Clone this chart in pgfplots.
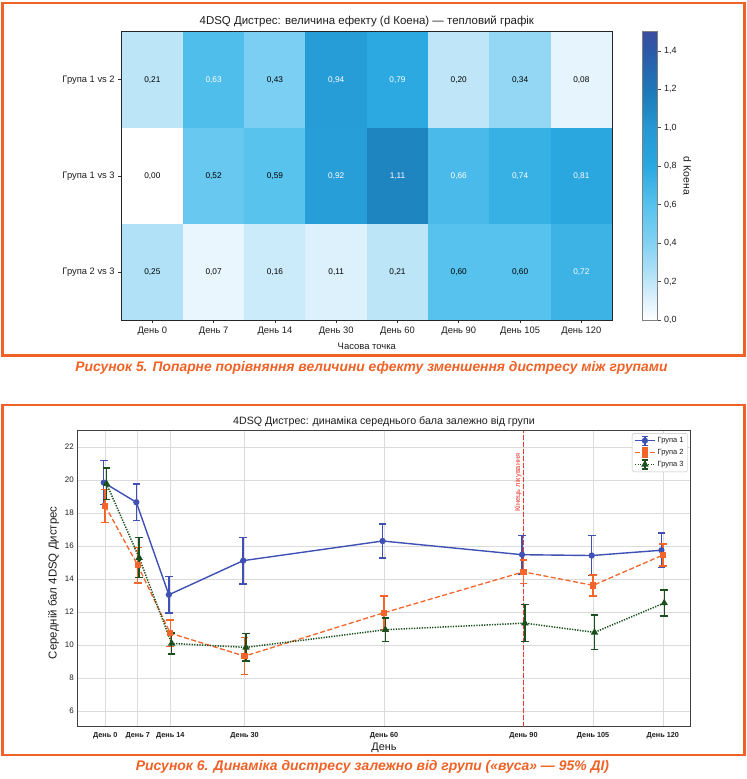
\documentclass[border=0pt]{standalone}
\usepackage{fontspec}
\setmainfont{Liberation Sans}
\setsansfont{Liberation Sans}
\usepackage{pgfplots}
\pgfplotsset{compat=1.18}
\usepackage{pgfplotstable}

\definecolor{frameor}{RGB}{240,98,38}
\definecolor{gA}{RGB}{63,81,181}
\definecolor{gB}{RGB}{243,101,43}
\definecolor{gC}{RGB}{27,80,30}
\definecolor{endline}{RGB}{236,58,48}
\definecolor{txt}{RGB}{30,30,30}

\newcommand\fs[1]{\fontsize{#1}{#1}\selectfont}

\pgfplotsset{/pgf/number format/assume math mode=true, /pgf/number format/use comma}

% Cohen's d: y = 0 (1 vs 2), 1 (1 vs 3), 2 (2 vs 3); w = 1 -> white label
\pgfplotstableread{
x y c w
0 0 0.21 0
1 0 0.63 1
2 0 0.43 0
3 0 0.94 1
4 0 0.79 1
5 0 0.20 0
6 0 0.34 0
7 0 0.08 0
0 1 0.00 0
1 1 0.52 0
2 1 0.59 0
3 1 0.92 1
4 1 1.11 1
5 1 0.66 1
6 1 0.74 1
7 1 0.81 1
0 2 0.25 0
1 2 0.07 0
2 2 0.16 0
3 2 0.11 0
4 2 0.21 0
5 2 0.60 0
6 2 0.60 0
7 2 0.72 1
}\cohen

\pgfplotstableread{
day m e
0 19.85 1.33
7 18.66 1.10
14 13.05 1.10
30 15.12 1.42
60 16.31 1.03
90 15.48 1.16
105 15.43 1.22
120 15.75 1.05
}\grpA

\pgfplotstableread{
day m e
0 18.44 1.00
7 14.84 1.07
14 10.72 0.80
30 9.33 1.12
60 11.96 1.02
90 14.44 0.71
105 13.62 0.64
120 15.46 0.66
}\grpB

\pgfplotstableread{
day m e
0 19.78 0.95
7 15.30 1.22
14 10.10 0.64
30 9.86 0.83
60 10.93 0.70
90 11.33 1.13
105 10.77 1.05
120 12.55 0.79
}\grpC

% end of treatment marker
\pgfplotstableread{
day v
90 5.05
90 23
}\endtreat

\begin{document}
\begin{tikzpicture}
\path[use as bounding box, fill=white] (0bp,0bp) rectangle (747bp,779bp);

% ---------- Figure 5: heat map ----------
\begin{axis}[
  at={(121.7bp,747.3bp)}, anchor=north west, scale only axis,
  width=490.3bp, height=288.3bp,
  xmin=-0.5, xmax=7.5, ymin=-0.5, ymax=2.5, y dir=reverse,
  enlargelimits=false, axis on top,
  xtick={0,...,7},
  xticklabels={День 0,День 7,День 14,День 30,День 60,День 90,День 105,День 120},
  ytick={0,1,2},
  yticklabels={Група 1 vs 2,Група 1 vs 3,Група 2 vs 3},
  tick pos=left, tick align=outside, major tick length=3.5bp,
  tick style={black!80, line width=0.6bp},
  axis line style={black!85, line width=0.7bp},
  ticklabel style={font=\fs{9.4}, text=txt},
  title={4DSQ Дистрес: величина ефекту (d Коена) — тепловий графік},
  title style={font=\fs{11.5}, text=txt, yshift=-5bp},
  xlabel={Часова точка}, xlabel style={font=\fs{9.5}, text=txt, yshift=-0.5bp},
  colormap={cohen}{rgb255(0cm)=(255,255,255) rgb255(1cm)=(224,242,252)
    rgb255(2cm)=(191,230,248) rgb255(4cm)=(130,209,243) rgb255(6cm)=(86,194,237)
    rgb255(8cm)=(42,168,224) rgb255(10cm)=(38,152,212) rgb255(11cm)=(31,135,194)
    rgb255(12cm)=(29,120,184) rgb255(14cm)=(44,90,168) rgb255(15cm)=(59,76,159)},
  point meta min=0, point meta max=1.5,
  colorbar,
  colorbar shift/.style={xshift=30.7bp},
  colorbar style={
    at={(parent axis.north east)}, anchor=north west,
    width=15bp,
    ytick={0,0.2,0.4,0.6,0.8,1.0,1.2,1.4},
    ytick pos=right,
    yticklabel style={font=\fs{9}, text=txt,
      /pgf/number format/.cd, fixed, fixed zerofill, precision=1, use comma},
    tick align=outside, major tick length=3bp,
    tick style={black!70, line width=0.6bp},
    axis line style={black!50, line width=0.7bp},
    ylabel={d Коена}, ylabel style={font=\fs{10.5}, text=txt, rotate=180},
  },
]
\addplot[matrix plot*, mesh/cols=8, mesh/rows=3, point meta=explicit]
  table[x=x, y=y, meta=c]{\cohen};
\addplot[only marks, mark=none, point meta=explicit,
  restrict expr to domain={\thisrow{w}}{-0.5:0.5},
  nodes near coords={\pgfmathprintnumber[fixed,fixed zerofill,precision=2,use comma]{\pgfplotspointmeta}},
  nodes near coords align=center,
  every node near coord/.append style={font=\fs{8.3}, text=black}]
  table[x=x, y=y, meta=c]{\cohen};
\addplot[only marks, mark=none, point meta=explicit,
  restrict expr to domain={\thisrow{w}}{0.5:1.5},
  nodes near coords={\pgfmathprintnumber[fixed,fixed zerofill,precision=2,use comma]{\pgfplotspointmeta}},
  nodes near coords align=center,
  every node near coord/.append style={font=\fs{8.3}, text=white}]
  table[x=x, y=y, meta=c]{\cohen};
\end{axis}

% ---------- Figure 6: dynamics ----------
\begin{axis}[
  at={(77.3bp,348.3bp)}, anchor=north west, scale only axis,
  width=613.4bp, height=296bp,
  xmin=-6, xmax=126, ymin=5.05, ymax=23,
  xtick={0,7,14,30,60,90,105,120},
  xticklabels={День 0,День 7,День 14,День 30,День 60,День 90,День 105,День 120},
  ytick={6,8,...,22},
  grid=major, major grid style={black!14, line width=0.6bp},
  major tick length=0pt,
  axis line style={black!75, line width=0.9bp},
  xticklabel style={font=\fs{7.3}\bfseries, text=txt, yshift=-2bp},
  yticklabel style={font=\fs{8}, text=txt},
  title={4DSQ Дистрес: динаміка середнього бала залежно від групи},
  title style={font=\fs{10.7}, text=txt, yshift=-6bp},
  xlabel={День}, xlabel style={font=\fs{11}, text=txt, yshift=3bp},
  ylabel={Середній бал 4DSQ Дистрес},
  ylabel style={font=\fs{11.5}, text=txt, yshift=-1bp, xshift=-4bp},
  legend style={at={(rel axis cs:1,1)}, anchor=north east, xshift=-3bp, yshift=-2.5bp,
    draw=black!25, rounded corners=1.5bp, font=\fs{7.5}, text=txt,
    row sep=1.2bp, inner xsep=2bp, inner ysep=2bp},
  legend cell align=left,
  legend image code/.code={
    \draw[mark repeat=2, mark phase=2, #1] plot coordinates {(0bp,0bp) (10bp,0bp) (20bp,0bp)};
    \draw[#1, solid, mark=none, line width=1.2bp] (10bp,-4.5bp) -- (10bp,4.5bp)
      (7bp,-4.5bp) -- (13bp,-4.5bp) (7bp,4.5bp) -- (13bp,4.5bp);
  },
]
\addplot+[no marks, color=endline, solid, dash pattern=on 4.5bp off 2.5bp,
  line width=1.2bp, forget plot]
  table[x=day, y=v]{\endtreat};
\node[rotate=90, anchor=south, inner sep=1.5bp, text=endline, font=\fs{7.5}]
  at (axis cs:90,19.85) {Кінець лікування};

\addplot[gA, solid, line width=1.4bp, mark=*, mark size=2.4bp, mark options={solid, fill=gA},
  x filter/.expression={x-0.3},
  error bars/.cd, y dir=both, y explicit,
  error bar style={line width=1.4bp, solid},
  error mark options={rotate=90, mark size=3.8bp, line width=1.4bp, solid}]
  table[x=day, y=m, y error=e]{\grpA};
\addlegendentry{Група 1}

\addplot[gB, dash pattern=on 5bp off 2.5bp, line width=1.3bp, mark=square*, mark size=2.5bp,
  mark options={solid, fill=gB},
  error bars/.cd, y dir=both, y explicit,
  error bar style={line width=1.4bp, solid},
  error mark options={rotate=90, mark size=3.8bp, line width=1.4bp, solid}]
  table[x=day, y=m, y error=e]{\grpB};
\addlegendentry{Група 2}

\addplot[gC, dash pattern=on 1.3bp off 1.3bp, line width=1.5bp, mark=triangle*, mark size=2.8bp,
  mark options={solid, fill=gC}, x filter/.expression={x+0.3},
  error bars/.cd, y dir=both, y explicit,
  error bar style={line width=1.4bp, solid},
  error mark options={rotate=90, mark size=3.8bp, line width=1.4bp, solid}]
  table[x=day, y=m, y error=e]{\grpC};
\addlegendentry{Група 3}
\end{axis}

% frames and captions
\draw[frameor, line width=2.6bp] (2.3bp,776bp) rectangle (744.5bp,423.5bp);
\draw[frameor, line width=2.6bp] (2.3bp,374bp) rectangle (744.5bp,24bp);
\node[font=\fs{13.9}\bfseries\itshape, text=frameor] at (371.5bp,411bp)
  {Рисунок 5. Попарне порівняння величини ефекту зменшення дистресу між групами};
\node[font=\fs{14}\bfseries\itshape, text=frameor] at (372.5bp,12bp)
  {Рисунок 6. Динаміка дистресу залежно від групи («вуса» — 95\% ДІ)};
\end{tikzpicture}
\end{document}
